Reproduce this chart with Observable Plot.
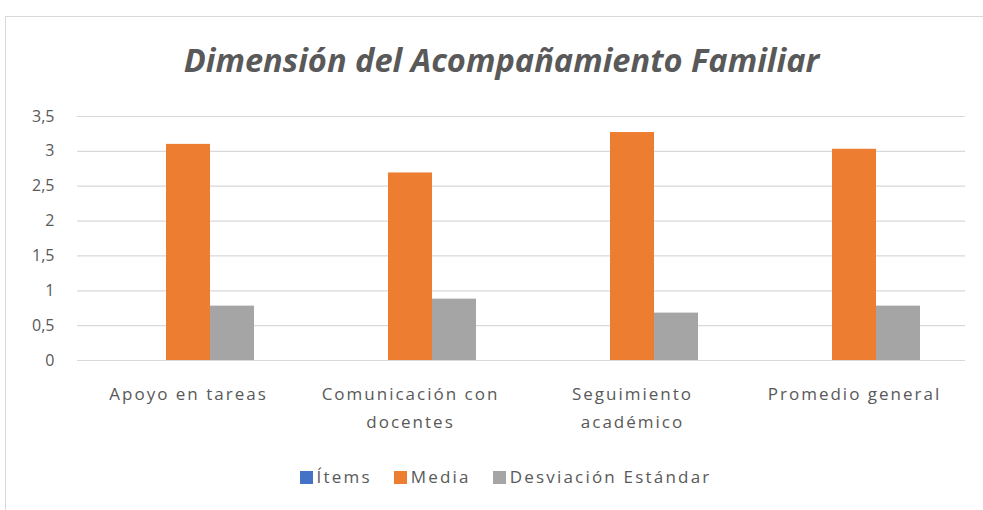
<!DOCTYPE html>
<html>
<head>
<meta charset="utf-8">
<script src="https://cdn.jsdelivr.net/npm/d3@7"></script>
<script src="https://cdn.jsdelivr.net/npm/@observablehq/plot@0.6"></script>
<style>
  html, body { margin: 0; padding: 0; background: #fff; }
  body { width: 983px; height: 510px; position: relative; overflow: hidden; font-family: "Open Sans", sans-serif; }
  #frame { position: absolute; left: 5px; top: 16px; width: 990px; height: 520px; border-left: 1px solid #d9d9d9; border-top: 1px solid #d9d9d9; }
  #title { position: absolute; left: 10px; width: 983px; top: 38px; height: 44px; line-height: 44px; text-align: center;
           font-weight: 700; font-style: italic; font-size: 32.6px; color: #595959; }
  #chart { position: absolute; left: 0; top: 100px; }
  #chart svg .xlab text { letter-spacing: 2px; }
  #legend { position: absolute; left: 14px; width: 983px; top: 465px; height: 24px; line-height: 24px; text-align: center;
            font-size: 17px; color: #595959; letter-spacing: 2.2px; white-space: nowrap; }
  .item { display: inline-block; margin: 0 11px; }
  .sw { display: inline-block; width: 13px; height: 13px; margin-right: 4px; vertical-align: -1px; }
</style>
</head>
<body>
<div id="frame"></div>
<div id="title">Dimensión del Acompañamiento Familiar</div>
<div id="chart"></div>
<div id="legend"></div>
<script>
const categories = ["Apoyo en tareas", "Comunicación con docentes", "Seguimiento académico", "Promedio general"];
const categoryLabels = ["Apoyo en tareas", "Comunicación con\ndocentes", "Seguimiento\nacadémico", "Promedio general"];
const series = ["Ítems", "Media", "Desviación Estándar"];
const items = [0, 0, 0, 0];
const media = [3.10, 2.69, 3.27, 3.03];
const desviacion = [0.78, 0.88, 0.68, 0.78];
const colors = ["#4472C4", "#ED7D31", "#A5A5A5"];
const yTicks = [0, 0.5, 1, 1.5, 2, 2.5, 3, 3.5];

const values = [items, media, desviacion];
const data = categories.flatMap((c, i) => series.map((s, j) => ({category: c, series: s, value: values[j][i]})));
const labelOf = new Map(categories.map((c, i) => [c, categoryLabels[i]]));
const fmt = d => String(d).replace(".", ",");

const chart = Plot.plot({
  width: 983,
  height: 340,
  marginLeft: 77,
  marginRight: 18,
  marginTop: 16,
  marginBottom: 80,
  style: {fontFamily: "'Open Sans', sans-serif", background: "transparent", overflow: "visible"},
  fx: {domain: categories, padding: 0, label: null},
  x: {domain: series, paddingInner: 0, paddingOuter: 1.0227, axis: null},
  y: {domain: [0, 3.5], label: null},
  color: {domain: series, range: colors},
  marks: [
    Plot.gridY(yTicks, {stroke: "#d9d9d9", strokeOpacity: 1, strokeWidth: 1.2}),
    Plot.axisY(yTicks, {tickSize: 0, tickPadding: 23, tickFormat: fmt, fill: "#595959", fontSize: 16, label: null}),
    Plot.axisFx({anchor: "bottom", className: "xlab", tickSize: 0, tickPadding: 20, tickFormat: d => labelOf.get(d), fill: "#595959", fontSize: 17, lineHeight: 1.65, label: null}),
    Plot.barY(data, {fx: "category", x: "series", y: "value", fill: "series"})
  ]
});
document.getElementById("chart").appendChild(chart);

const legend = document.getElementById("legend");
series.forEach((s, i) => {
  const el = document.createElement("span");
  el.className = "item";
  const sw = document.createElement("span");
  sw.className = "sw";
  sw.style.background = colors[i];
  el.appendChild(sw);
  el.appendChild(document.createTextNode(s));
  legend.appendChild(el);
});
</script>
</body>
</html>
